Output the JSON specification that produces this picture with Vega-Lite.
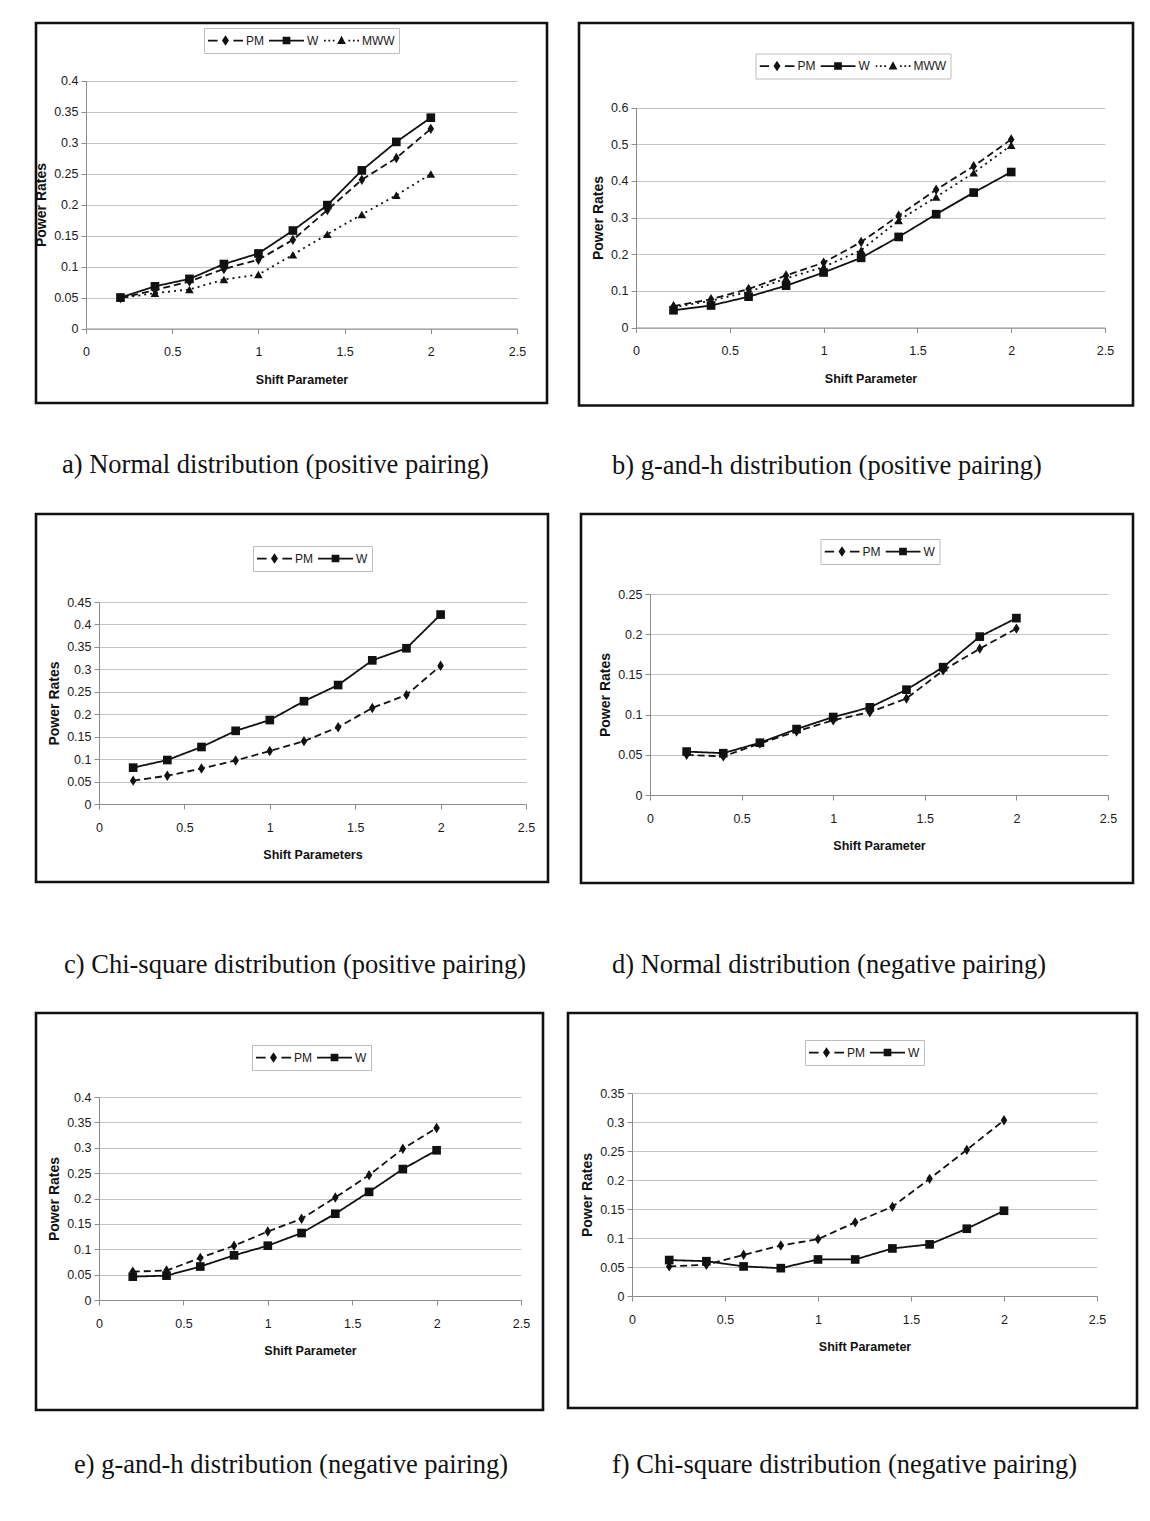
{
"$schema": "https://vega.github.io/schema/vega-lite/v6.json",
"padding": {"left": 33, "top": 21, "right": 5, "bottom": 5},
"background": "white",
"datasets": {
"pa": [
{"method":"PM","shift":0.2,"power":0.049},{"method":"PM","shift":0.4,"power":0.062},{"method":"PM","shift":0.6,"power":0.076},{"method":"PM","shift":0.8,"power":0.096},{"method":"PM","shift":1.0,"power":0.111},{"method":"PM","shift":1.2,"power":0.143},{"method":"PM","shift":1.4,"power":0.191},{"method":"PM","shift":1.6,"power":0.240},{"method":"PM","shift":1.8,"power":0.275},{"method":"PM","shift":2.0,"power":0.322},
{"method":"W","shift":0.2,"power":0.050},{"method":"W","shift":0.4,"power":0.068},{"method":"W","shift":0.6,"power":0.080},{"method":"W","shift":0.8,"power":0.104},{"method":"W","shift":1.0,"power":0.121},{"method":"W","shift":1.2,"power":0.158},{"method":"W","shift":1.4,"power":0.199},{"method":"W","shift":1.6,"power":0.255},{"method":"W","shift":1.8,"power":0.301},{"method":"W","shift":2.0,"power":0.340},
{"method":"MWW","shift":0.2,"power":0.049},{"method":"MWW","shift":0.4,"power":0.057},{"method":"MWW","shift":0.6,"power":0.063},{"method":"MWW","shift":0.8,"power":0.079},{"method":"MWW","shift":1.0,"power":0.087},{"method":"MWW","shift":1.2,"power":0.119},{"method":"MWW","shift":1.4,"power":0.152},{"method":"MWW","shift":1.6,"power":0.184},{"method":"MWW","shift":1.8,"power":0.215},{"method":"MWW","shift":2.0,"power":0.249}
],
"pb": [
{"method":"PM","shift":0.2,"power":0.058},{"method":"PM","shift":0.4,"power":0.077},{"method":"PM","shift":0.6,"power":0.105},{"method":"PM","shift":0.8,"power":0.142},{"method":"PM","shift":1.0,"power":0.177},{"method":"PM","shift":1.2,"power":0.233},{"method":"PM","shift":1.4,"power":0.305},{"method":"PM","shift":1.6,"power":0.376},{"method":"PM","shift":1.8,"power":0.440},{"method":"PM","shift":2.0,"power":0.513},
{"method":"W","shift":0.2,"power":0.047},{"method":"W","shift":0.4,"power":0.060},{"method":"W","shift":0.6,"power":0.084},{"method":"W","shift":0.8,"power":0.114},{"method":"W","shift":1.0,"power":0.150},{"method":"W","shift":1.2,"power":0.190},{"method":"W","shift":1.4,"power":0.247},{"method":"W","shift":1.6,"power":0.309},{"method":"W","shift":1.8,"power":0.368},{"method":"W","shift":2.0,"power":0.424},
{"method":"MWW","shift":0.2,"power":0.055},{"method":"MWW","shift":0.4,"power":0.073},{"method":"MWW","shift":0.6,"power":0.097},{"method":"MWW","shift":0.8,"power":0.134},{"method":"MWW","shift":1.0,"power":0.165},{"method":"MWW","shift":1.2,"power":0.211},{"method":"MWW","shift":1.4,"power":0.292},{"method":"MWW","shift":1.6,"power":0.356},{"method":"MWW","shift":1.8,"power":0.422},{"method":"MWW","shift":2.0,"power":0.497}
],
"pc": [
{"method":"PM","shift":0.2,"power":0.052},{"method":"PM","shift":0.4,"power":0.063},{"method":"PM","shift":0.6,"power":0.079},{"method":"PM","shift":0.8,"power":0.097},{"method":"PM","shift":1.0,"power":0.118},{"method":"PM","shift":1.2,"power":0.140},{"method":"PM","shift":1.4,"power":0.171},{"method":"PM","shift":1.6,"power":0.214},{"method":"PM","shift":1.8,"power":0.243},{"method":"PM","shift":2.0,"power":0.308},
{"method":"W","shift":0.2,"power":0.081},{"method":"W","shift":0.4,"power":0.098},{"method":"W","shift":0.6,"power":0.127},{"method":"W","shift":0.8,"power":0.163},{"method":"W","shift":1.0,"power":0.187},{"method":"W","shift":1.2,"power":0.229},{"method":"W","shift":1.4,"power":0.265},{"method":"W","shift":1.6,"power":0.320},{"method":"W","shift":1.8,"power":0.347},{"method":"W","shift":2.0,"power":0.422}
],
"pd": [
{"method":"PM","shift":0.2,"power":0.050},{"method":"PM","shift":0.4,"power":0.048},{"method":"PM","shift":0.6,"power":0.064},{"method":"PM","shift":0.8,"power":0.079},{"method":"PM","shift":1.0,"power":0.093},{"method":"PM","shift":1.2,"power":0.103},{"method":"PM","shift":1.4,"power":0.120},{"method":"PM","shift":1.6,"power":0.155},{"method":"PM","shift":1.8,"power":0.182},{"method":"PM","shift":2.0,"power":0.207},
{"method":"W","shift":0.2,"power":0.054},{"method":"W","shift":0.4,"power":0.052},{"method":"W","shift":0.6,"power":0.065},{"method":"W","shift":0.8,"power":0.082},{"method":"W","shift":1.0,"power":0.097},{"method":"W","shift":1.2,"power":0.109},{"method":"W","shift":1.4,"power":0.131},{"method":"W","shift":1.6,"power":0.159},{"method":"W","shift":1.8,"power":0.197},{"method":"W","shift":2.0,"power":0.220}
],
"pe": [
{"method":"PM","shift":0.2,"power":0.056},{"method":"PM","shift":0.4,"power":0.058},{"method":"PM","shift":0.6,"power":0.083},{"method":"PM","shift":0.8,"power":0.107},{"method":"PM","shift":1.0,"power":0.135},{"method":"PM","shift":1.2,"power":0.160},{"method":"PM","shift":1.4,"power":0.202},{"method":"PM","shift":1.6,"power":0.246},{"method":"PM","shift":1.8,"power":0.298},{"method":"PM","shift":2.0,"power":0.339},
{"method":"W","shift":0.2,"power":0.046},{"method":"W","shift":0.4,"power":0.048},{"method":"W","shift":0.6,"power":0.066},{"method":"W","shift":0.8,"power":0.088},{"method":"W","shift":1.0,"power":0.107},{"method":"W","shift":1.2,"power":0.132},{"method":"W","shift":1.4,"power":0.170},{"method":"W","shift":1.6,"power":0.213},{"method":"W","shift":1.8,"power":0.258},{"method":"W","shift":2.0,"power":0.295}
],
"pf": [
{"method":"PM","shift":0.2,"power":0.051},{"method":"PM","shift":0.4,"power":0.054},{"method":"PM","shift":0.6,"power":0.071},{"method":"PM","shift":0.8,"power":0.087},{"method":"PM","shift":1.0,"power":0.098},{"method":"PM","shift":1.2,"power":0.127},{"method":"PM","shift":1.4,"power":0.154},{"method":"PM","shift":1.6,"power":0.202},{"method":"PM","shift":1.8,"power":0.252},{"method":"PM","shift":2.0,"power":0.303},
{"method":"W","shift":0.2,"power":0.062},{"method":"W","shift":0.4,"power":0.060},{"method":"W","shift":0.6,"power":0.051},{"method":"W","shift":0.8,"power":0.048},{"method":"W","shift":1.0,"power":0.063},{"method":"W","shift":1.2,"power":0.063},{"method":"W","shift":1.4,"power":0.082},{"method":"W","shift":1.6,"power":0.089},{"method":"W","shift":1.8,"power":0.116},{"method":"W","shift":2.0,"power":0.147}
]
},
"spacing": 31,
"vconcat": [
{"spacing": 28, "hconcat": [
{"width": 511, "height": 380, "data": {"name": "pa"},
 "title": {"text": "a) Normal distribution (positive pairing)", "dx": 26, "offset": 49},
 "resolve": {"scale": {"shape": "independent"}},
 "encoding": {
  "x": {"field": "shift", "type": "quantitative", "scale": {"domain": [0, 2.5], "range": [50, 481], "nice": false, "zero": false}, "axis": {"title": "Shift Parameter", "values": [0, 0.5, 1, 1.5, 2, 2.5], "format": "~g", "offset": -74.5}},
  "y": {"field": "power", "type": "quantitative", "scale": {"domain": [0, 0.4], "range": [305.5, 57.5], "nice": false, "zero": false}, "axis": {"title": "Power Rates", "values": [0, 0.05, 0.1, 0.15, 0.2, 0.25, 0.3, 0.35, 0.4], "format": "~g", "offset": -50}}
 },
 "layer": [
  {"mark": {"type": "line", "color": "#111", "strokeWidth": 1.8}, "encoding": {"strokeDash": {"field": "method", "type": "nominal", "scale": {"domain": ["PM", "W", "MWW"], "range": [[7, 4], [1, 0], [2, 4]]}, "legend": null}}},
  {"mark": {"type": "point", "filled": true, "color": "#111", "opacity": 1, "size": 75}, "encoding": {"shape": {"field": "method", "type": "nominal", "scale": {"domain": ["PM", "W", "MWW"], "range": ["M0,-1.2L0.75,0L0,1.2L-0.75,0Z", "square", "triangle-up"]}, "legend": null}}},
  {"transform": [{"filter": "false"}], "mark": {"type": "point", "filled": true, "color": "#111", "strokeWidth": 0, "opacity": 1},
   "encoding": {
    "shape": {"field": "method", "type": "nominal", "scale": {"domain": ["PM", "W", "MWW"], "range": ["M-1,-0.05H-0.45V0.05H-1ZM0.45,-0.05H1V0.05H0.45ZM0,-0.3L0.2,0L0,0.3L-0.2,0Z", "M-1,-0.05H1V0.05H-1ZM-0.22,-0.22H0.22V0.22H-0.22Z", "M-1,-0.05H-0.9V0.05H-1ZM-0.75,-0.05H-0.65V0.05H-0.75ZM-0.5,-0.05H-0.4V0.05H-0.5ZM0.4,-0.05H0.5V0.05H0.4ZM0.65,-0.05H0.75V0.05H0.65ZM0.9,-0.05H1V0.05H0.9ZM0,-0.27L0.25,0.2H-0.25Z"]}, "legend": {"orient": "none", "legendX": 168, "legendY": 5, "direction": "horizontal", "title": null}}
   }}
 ]},
{"width": 554, "height": 382.5, "data": {"name": "pb"},
 "title": {"text": "b) g-and-h distribution (positive pairing)", "dx": 33, "offset": 47},
 "resolve": {"scale": {"shape": "independent"}},
 "encoding": {
  "x": {"field": "shift", "type": "quantitative", "scale": {"domain": [0, 2.5], "range": [57, 526], "nice": false, "zero": false}, "axis": {"title": "Shift Parameter", "values": [0, 0.5, 1, 1.5, 2, 2.5], "format": "~g", "offset": -78}},
  "y": {"field": "power", "type": "quantitative", "scale": {"domain": [0, 0.6], "range": [304.5, 84.5], "nice": false, "zero": false}, "axis": {"title": "Power Rates", "values": [0, 0.1, 0.2, 0.3, 0.4, 0.5, 0.6], "format": "~g", "offset": -57}}
 },
 "layer": [
  {"mark": {"type": "line", "color": "#111", "strokeWidth": 1.8}, "encoding": {"strokeDash": {"field": "method", "type": "nominal", "scale": {"domain": ["PM", "W", "MWW"], "range": [[7, 4], [1, 0], [2, 4]]}, "legend": null}}},
  {"mark": {"type": "point", "filled": true, "color": "#111", "opacity": 1, "size": 75}, "encoding": {"shape": {"field": "method", "type": "nominal", "scale": {"domain": ["PM", "W", "MWW"], "range": ["M0,-1.2L0.75,0L0,1.2L-0.75,0Z", "square", "triangle-up"]}, "legend": null}}},
  {"transform": [{"filter": "false"}], "mark": {"type": "point", "filled": true, "color": "#111", "strokeWidth": 0, "opacity": 1},
   "encoding": {
    "shape": {"field": "method", "type": "nominal", "scale": {"domain": ["PM", "W", "MWW"], "range": ["M-1,-0.05H-0.45V0.05H-1ZM0.45,-0.05H1V0.05H0.45ZM0,-0.3L0.2,0L0,0.3L-0.2,0Z", "M-1,-0.05H1V0.05H-1ZM-0.22,-0.22H0.22V0.22H-0.22Z", "M-1,-0.05H-0.9V0.05H-1ZM-0.75,-0.05H-0.65V0.05H-0.75ZM-0.5,-0.05H-0.4V0.05H-0.5ZM0.4,-0.05H0.5V0.05H0.4ZM0.65,-0.05H0.75V0.05H0.65ZM0.9,-0.05H1V0.05H0.9ZM0,-0.27L0.25,0.2H-0.25Z"]}, "legend": {"orient": "none", "legendX": 176.5, "legendY": 30.5, "direction": "horizontal", "title": null}}
   }}
 ]}
]},
{"spacing": 29, "hconcat": [
{"width": 512, "height": 368, "data": {"name": "pc"},
 "title": {"text": "c) Chi-square distribution (positive pairing)", "dx": 28, "offset": 70},
 "resolve": {"scale": {"shape": "independent"}},
 "encoding": {
  "x": {"field": "shift", "type": "quantitative", "scale": {"domain": [0, 2.5], "range": [63, 490], "nice": false, "zero": false}, "axis": {"title": "Shift Parameters", "values": [0, 0.5, 1, 1.5, 2, 2.5], "format": "~g", "offset": -78}},
  "y": {"field": "power", "type": "quantitative", "scale": {"domain": [0, 0.45], "range": [290, 88], "nice": false, "zero": false}, "axis": {"title": "Power Rates", "values": [0, 0.05, 0.1, 0.15, 0.2, 0.25, 0.3, 0.35, 0.4, 0.45], "format": "~g", "offset": -63}}
 },
 "layer": [
  {"mark": {"type": "line", "color": "#111", "strokeWidth": 1.8}, "encoding": {"strokeDash": {"field": "method", "type": "nominal", "scale": {"domain": ["PM", "W"], "range": [[7, 4], [1, 0]]}, "legend": null}}},
  {"mark": {"type": "point", "filled": true, "color": "#111", "opacity": 1, "size": 75}, "encoding": {"shape": {"field": "method", "type": "nominal", "scale": {"domain": ["PM", "W"], "range": ["M0,-1.2L0.75,0L0,1.2L-0.75,0Z", "square"]}, "legend": null}}},
  {"transform": [{"filter": "false"}], "mark": {"type": "point", "filled": true, "color": "#111", "strokeWidth": 0, "opacity": 1},
   "encoding": {
    "shape": {"field": "method", "type": "nominal", "scale": {"domain": ["PM", "W"], "range": ["M-1,-0.05H-0.45V0.05H-1ZM0.45,-0.05H1V0.05H0.45ZM0,-0.3L0.2,0L0,0.3L-0.2,0Z", "M-1,-0.05H1V0.05H-1ZM-0.22,-0.22H0.22V0.22H-0.22Z"]}, "legend": {"orient": "none", "legendX": 217, "legendY": 32, "direction": "horizontal", "title": null}}
   }}
 ]},
{"width": 552, "height": 369, "data": {"name": "pd"},
 "title": {"text": "d) Normal distribution (negative pairing)", "dx": 31, "offset": 69},
 "resolve": {"scale": {"shape": "independent"}},
 "encoding": {
  "x": {"field": "shift", "type": "quantitative", "scale": {"domain": [0, 2.5], "range": [69, 527], "nice": false, "zero": false}, "axis": {"title": "Shift Parameter", "values": [0, 0.5, 1, 1.5, 2, 2.5], "format": "~g", "offset": -88}},
  "y": {"field": "power", "type": "quantitative", "scale": {"domain": [0, 0.25], "range": [281, 80], "nice": false, "zero": false}, "axis": {"title": "Power Rates", "values": [0, 0.05, 0.1, 0.15, 0.2, 0.25], "format": "~g", "offset": -69}}
 },
 "layer": [
  {"mark": {"type": "line", "color": "#111", "strokeWidth": 1.8}, "encoding": {"strokeDash": {"field": "method", "type": "nominal", "scale": {"domain": ["PM", "W"], "range": [[7, 4], [1, 0]]}, "legend": null}}},
  {"mark": {"type": "point", "filled": true, "color": "#111", "opacity": 1, "size": 75}, "encoding": {"shape": {"field": "method", "type": "nominal", "scale": {"domain": ["PM", "W"], "range": ["M0,-1.2L0.75,0L0,1.2L-0.75,0Z", "square"]}, "legend": null}}},
  {"transform": [{"filter": "false"}], "mark": {"type": "point", "filled": true, "color": "#111", "strokeWidth": 0, "opacity": 1},
   "encoding": {
    "shape": {"field": "method", "type": "nominal", "scale": {"domain": ["PM", "W"], "range": ["M-1,-0.05H-0.45V0.05H-1ZM0.45,-0.05H1V0.05H0.45ZM0,-0.3L0.2,0L0,0.3L-0.2,0Z", "M-1,-0.05H1V0.05H-1ZM-0.22,-0.22H0.22V0.22H-0.22Z"]}, "legend": {"orient": "none", "legendX": 239.5, "legendY": 25, "direction": "horizontal", "title": null}}
   }}
 ]}
]},
{"spacing": 21, "hconcat": [
{"width": 507, "height": 397, "data": {"name": "pe"},
 "title": {"text": "e) g-and-h distribution (negative pairing)", "dx": 38, "offset": 42},
 "resolve": {"scale": {"shape": "independent"}},
 "encoding": {
  "x": {"field": "shift", "type": "quantitative", "scale": {"domain": [0, 2.5], "range": [63, 485], "nice": false, "zero": false}, "axis": {"title": "Shift Parameter", "values": [0, 0.5, 1, 1.5, 2, 2.5], "format": "~g", "offset": -110}},
  "y": {"field": "power", "type": "quantitative", "scale": {"domain": [0, 0.4], "range": [287, 84], "nice": false, "zero": false}, "axis": {"title": "Power Rates", "values": [0, 0.05, 0.1, 0.15, 0.2, 0.25, 0.3, 0.35, 0.4], "format": "~g", "offset": -63}}
 },
 "layer": [
  {"mark": {"type": "line", "color": "#111", "strokeWidth": 1.8}, "encoding": {"strokeDash": {"field": "method", "type": "nominal", "scale": {"domain": ["PM", "W"], "range": [[7, 4], [1, 0]]}, "legend": null}}},
  {"mark": {"type": "point", "filled": true, "color": "#111", "opacity": 1, "size": 75}, "encoding": {"shape": {"field": "method", "type": "nominal", "scale": {"domain": ["PM", "W"], "range": ["M0,-1.2L0.75,0L0,1.2L-0.75,0Z", "square"]}, "legend": null}}},
  {"transform": [{"filter": "false"}], "mark": {"type": "point", "filled": true, "color": "#111", "strokeWidth": 0, "opacity": 1},
   "encoding": {
    "shape": {"field": "method", "type": "nominal", "scale": {"domain": ["PM", "W"], "range": ["M-1,-0.05H-0.45V0.05H-1ZM0.45,-0.05H1V0.05H0.45ZM0,-0.3L0.2,0L0,0.3L-0.2,0Z", "M-1,-0.05H1V0.05H-1ZM-0.22,-0.22H0.22V0.22H-0.22Z"]}, "legend": {"orient": "none", "legendX": 216, "legendY": 32, "direction": "horizontal", "title": null}}
   }}
 ]},
{"width": 569, "height": 395, "data": {"name": "pf"},
 "title": {"text": "f) Chi-square distribution (negative pairing)", "dx": 44, "offset": 44},
 "resolve": {"scale": {"shape": "independent"}},
 "encoding": {
  "x": {"field": "shift", "type": "quantitative", "scale": {"domain": [0, 2.5], "range": [64, 529], "nice": false, "zero": false}, "axis": {"title": "Shift Parameter", "values": [0, 0.5, 1, 1.5, 2, 2.5], "format": "~g", "offset": -112}},
  "y": {"field": "power", "type": "quantitative", "scale": {"domain": [0, 0.35], "range": [283, 80], "nice": false, "zero": false}, "axis": {"title": "Power Rates", "values": [0, 0.05, 0.1, 0.15, 0.2, 0.25, 0.3, 0.35], "format": "~g", "offset": -64}}
 },
 "layer": [
  {"mark": {"type": "line", "color": "#111", "strokeWidth": 1.8}, "encoding": {"strokeDash": {"field": "method", "type": "nominal", "scale": {"domain": ["PM", "W"], "range": [[7, 4], [1, 0]]}, "legend": null}}},
  {"mark": {"type": "point", "filled": true, "color": "#111", "opacity": 1, "size": 75}, "encoding": {"shape": {"field": "method", "type": "nominal", "scale": {"domain": ["PM", "W"], "range": ["M0,-1.2L0.75,0L0,1.2L-0.75,0Z", "square"]}, "legend": null}}},
  {"transform": [{"filter": "false"}], "mark": {"type": "point", "filled": true, "color": "#111", "strokeWidth": 0, "opacity": 1},
   "encoding": {
    "shape": {"field": "method", "type": "nominal", "scale": {"domain": ["PM", "W"], "range": ["M-1,-0.05H-0.45V0.05H-1ZM0.45,-0.05H1V0.05H0.45ZM0,-0.3L0.2,0L0,0.3L-0.2,0Z", "M-1,-0.05H1V0.05H-1ZM-0.22,-0.22H0.22V0.22H-0.22Z"]}, "legend": {"orient": "none", "legendX": 237, "legendY": 27, "direction": "horizontal", "title": null}}
   }}
 ]}
]}
],
"config": {
 "view": {"stroke": "#111", "strokeWidth": 2.6},
 "title": {"orient": "bottom", "anchor": "start", "frame": "group", "font": "Liberation Serif", "fontSize": 26.5, "fontWeight": "normal", "color": "#111"},
 "axis": {"labelFont": "Liberation Sans, Arial, sans-serif", "labelFontSize": 12.5, "labelColor": "#1a1a1a", "labelFlush": false, "labelOverlap": false, "domainColor": "#8c8c8c", "domainWidth": 1, "tickColor": "#8c8c8c", "tickSize": 5, "tickWidth": 1, "gridColor": "#c4c4c4", "gridWidth": 1, "titleFont": "Liberation Sans, Arial, sans-serif", "titleFontWeight": "bold", "titleColor": "#111"},
 "axisX": {"grid": false, "labelPadding": 12, "titlePadding": 15, "titleFontSize": 12.5},
 "axisY": {"grid": true, "labelPadding": 3, "titlePadding": 5, "titleFontSize": 14},
 "legend": {"symbolSize": 1225, "clipHeight": 17, "padding": 4, "labelOffset": 3, "columnPadding": 5, "strokeColor": "#bdbdbd", "fillColor": "white", "symbolStrokeWidth": 0, "labelFont": "Liberation Sans, Arial, sans-serif", "labelFontSize": 12, "labelColor": "#1a1a1a"}
}
}
